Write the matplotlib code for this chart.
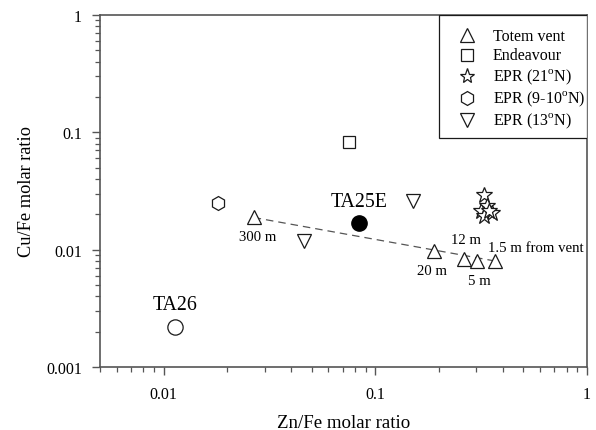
import matplotlib
matplotlib.use("Agg")
import matplotlib.pyplot as plt
from matplotlib.patches import Rectangle
from matplotlib.ticker import LogLocator, FixedLocator, FixedFormatter, NullFormatter

plt.rcParams['font.family'] = ['Liberation Serif', 'DejaVu Serif']
plt.rcParams['mathtext.fontset'] = 'custom'
plt.rcParams['mathtext.rm'] = 'Liberation Serif'

# Data (Zn/Fe, Cu/Fe molar ratios)
totem_zn = [0.0266, 0.190, 0.263, 0.303, 0.368]
totem_cu = [0.0188, 0.0098, 0.0084, 0.0080, 0.0080]
totem_labels = ["300 m", "20 m", "12 m", "5 m", "1.5 m from vent"]

endeavour_zn = [0.0753]
endeavour_cu = [0.0834]

epr21_zn = [0.327, 0.316, 0.337, 0.356, 0.327, 0.345]
epr21_cu = [0.0294, 0.0215, 0.0237, 0.0207, 0.0195, 0.0215]

epr910_zn = [0.018]
epr910_cu = [0.0250]

epr13_zn = [0.0462, 0.150]
epr13_cu = [0.0119, 0.0262]

ta25e_zn, ta25e_cu = 0.084, 0.0170
ta26_zn, ta26_cu = 0.0113, 0.00221

legend_labels = ['Totem vent', 'Endeavour', 'EPR (21$^{\\mathrm{o}}$N)',
                 'EPR (9-10$^{\\mathrm{o}}$N)', 'EPR (13$^{\\mathrm{o}}$N)']

fig = plt.figure(figsize=(5.96, 4.31), dpi=100)
ax = fig.add_axes([0.1678, 0.1462, 0.8172, 0.8167])
ax.set_xscale('log')
ax.set_yscale('log')
ax.set_xlim(0.005, 1)
ax.set_ylim(0.001, 1)

EC = '#1a1a1a'
mk = dict(markerfacecolor='white', markeredgecolor=EC, markeredgewidth=0.9,
          linestyle='none', color=EC)

# dashed trend line for Totem vent
ax.plot([totem_zn[0], totem_zn[-1]], [totem_cu[0], totem_cu[-1]],
        linestyle=(0, (6, 4)), color='#555555', linewidth=0.9, zorder=2)

styles = [('^', 9.5), ('s', 9), ('*', 12), ('h', 10), ('v', 9.5)]
series = [(totem_zn, totem_cu), (endeavour_zn, endeavour_cu), (epr21_zn, epr21_cu),
          (epr910_zn, epr910_cu), (epr13_zn, epr13_cu)]
for (xs, ys), (m, ms) in zip(series, styles):
    ax.plot(xs, ys, marker=m, markersize=ms, zorder=3, **mk)

ax.plot([ta25e_zn], [ta25e_cu], marker='o', markersize=11, color='black', linestyle='none', zorder=3)
ax.plot([ta26_zn], [ta26_cu], marker='o', markersize=11, markerfacecolor='white',
        markeredgecolor=EC, markeredgewidth=0.9, linestyle='none', zorder=3)

# annotations
ax.annotate("TA25E", (ta25e_zn, ta25e_cu), xytext=(0, 15), textcoords='offset points',
            ha='center', va='center', fontsize=14.3)
ax.annotate("TA26", (ta26_zn, ta26_cu), xytext=(0, 16), textcoords='offset points',
            ha='center', va='center', fontsize=14.3)
offsets = [(3, -14), (-2, -14), (1.5, 14), (1.5, -14), (-5, 10)]
has = ['center', 'center', 'center', 'center', 'left']
for i, (lab, off, ha) in enumerate(zip(totem_labels, offsets, has)):
    ax.annotate(lab, (totem_zn[i], totem_cu[i]), xytext=off, textcoords='offset points',
                ha=ha, va='center', fontsize=10.6)

# manual legend (axes fraction coordinates)
ax.add_patch(Rectangle((0.696, 0.6506), 1 - 0.696, 1 - 0.6506, transform=ax.transAxes,
                       facecolor='white', edgecolor=EC, linewidth=0.9, zorder=5))
row_y = [0.930, 0.874, 0.813, 0.752, 0.690]
leg_sizes = [9.5, 9, 11, 10, 9.5]
for lab, (m, _), ms, yb in zip(legend_labels, styles, leg_sizes, row_y):
    ax.plot([0.7536], [yb + 0.013], marker=m, markersize=ms, transform=ax.transAxes,
            clip_on=False, zorder=6, **mk)
    ax.text(0.807, yb, lab, transform=ax.transAxes, ha='left', va='baseline',
            fontsize=11.5, zorder=6)

# ticks
ax.xaxis.set_major_locator(FixedLocator([0.01, 0.1, 1]))
ax.xaxis.set_major_formatter(FixedFormatter(['0.01', '0.1', '1']))
ax.yaxis.set_major_locator(FixedLocator([0.001, 0.01, 0.1, 1]))
ax.yaxis.set_major_formatter(FixedFormatter(['0.001', '0.01', '0.1', '1']))
ax.xaxis.set_minor_locator(LogLocator(base=10, subs=range(2, 10)))
ax.yaxis.set_minor_locator(LogLocator(base=10, subs=range(2, 10)))
ax.xaxis.set_minor_formatter(NullFormatter())
ax.yaxis.set_minor_formatter(NullFormatter())
ax.tick_params(which='major', direction='out', length=6, width=1.0, color='#555555',
               labelsize=11.5, pad=7, top=False, right=False)
ax.tick_params(axis='x', which='major', pad=8)
ax.tick_params(which='minor', direction='out', length=3.6, width=0.9, color='#555555',
               top=False, right=False)
for s in ax.spines.values():
    s.set_color('#555555')
    s.set_linewidth(1.2)

ax.set_xlabel('Zn/Fe molar ratio', fontsize=13.6, labelpad=8)
ax.set_ylabel('Cu/Fe molar ratio', fontsize=13.2, labelpad=8)

fig.savefig('out.png', dpi=100)
